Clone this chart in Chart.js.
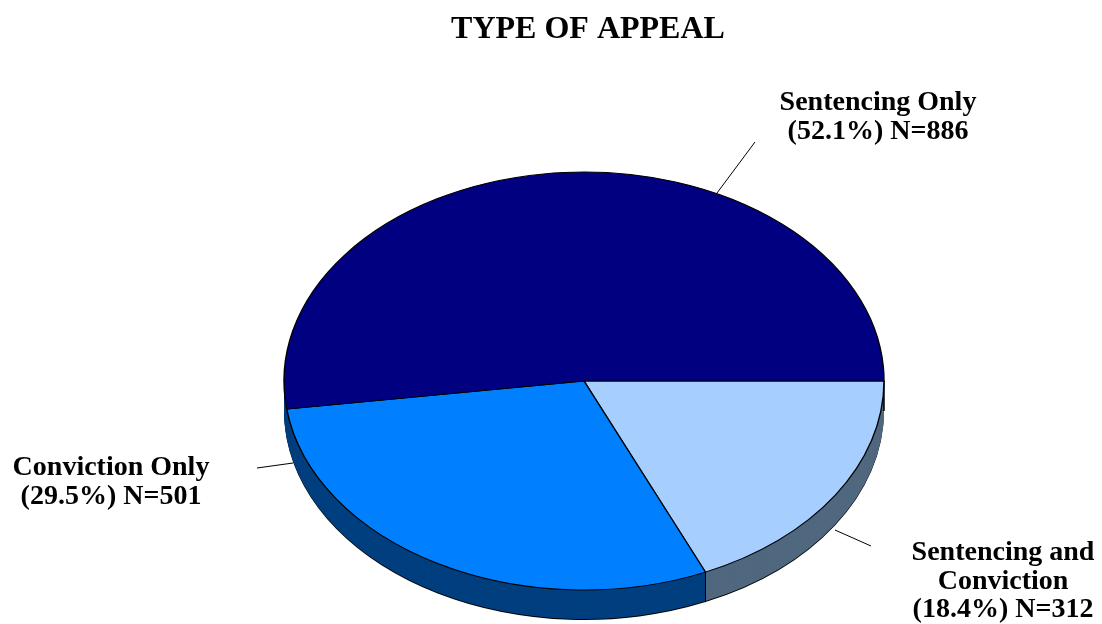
<!DOCTYPE html>
<html>
<head>
<meta charset="utf-8">
<script src="https://cdn.jsdelivr.net/npm/chart.js@4/dist/chart.umd.min.js"></script>
<style>
  html, body { margin: 0; padding: 0; background: #fff; }
  canvas { display: block; }
</style>
</head>
<body>
<canvas id="chart" width="1102" height="624"></canvas>
<script>
  // slices listed clockwise from 3 o'clock
  const categories = ['Sentencing and Conviction', 'Conviction Only', 'Sentencing Only'];
  const counts = [312, 501, 886];
  const percents = [18.4, 29.5, 52.1];
  const labelLines = [['Sentencing and', 'Conviction'], ['Conviction Only'], ['Sentencing Only']];

  const topColors = ['#A6CFFF', '#0080FF', '#000080'];
  const sideColors = ['#50687F', '#003F7F', '#003F7F'];

  // the flat pie gets squashed into this ellipse
  const pieX = 584, pieY = 381, pieRX = 300, pieRY = 209, depth = 30;

  // label centre (first line) and leader line
  const labelPos = [
    { x: 1003, y: 553, from: [871, 546], to: [835, 530] },
    { x: 111, y: 468, from: [257, 468], to: [293, 463] },
    { x: 878, y: 103, from: [755, 142], to: [717, 193] }
  ];
  const lineGap = 28.5;
  const serif = "'Liberation Serif', 'Times New Roman', serif";

  function withPieTransform(ctx, arc, dy, fn) {
    const k = arc.outerRadius;
    ctx.save();
    ctx.translate(pieX, pieY + dy);
    ctx.scale(pieRX / k, pieRY / k);
    ctx.translate(-arc.x, -arc.y);
    fn();
    ctx.restore();
  }

  function drawArc(ctx, arc, opts) {
    const saved = arc.options;
    arc.options = Object.assign({}, saved, opts);
    arc.draw(ctx);
    arc.options = saved;
  }

  const pie3d = {
    id: 'pie3d',
    beforeDatasetDraw() { return false; },
    afterDatasetsDraw(chart) {
      const ctx = chart.ctx;
      const arcs = chart.getDatasetMeta(0).data;

      // side wall, bottom layer black for the rim
      for (let d = depth; d >= 1; d--) {
        arcs.forEach((arc, i) => {
          withPieTransform(ctx, arc, d, () => drawArc(ctx, arc, {
            backgroundColor: d === depth ? '#000' : sideColors[i],
            borderWidth: 0
          }));
        });
      }

      // vertical edges on the front half
      const edges = [0];
      arcs.forEach(arc => edges.push(arc.startAngle));
      ctx.save();
      ctx.strokeStyle = '#000';
      ctx.lineWidth = 1;
      edges.forEach(a => {
        const s = Math.sin(a);
        if (s < -1e-6 || Math.cos(a) < -0.95) return;
        const x = pieX + pieRX * Math.cos(a);
        const y = pieY + pieRY * s;
        ctx.beginPath();
        ctx.moveTo(x, y);
        ctx.lineTo(x, y + depth);
        ctx.stroke();
      });
      ctx.restore();

      // top face
      arcs.forEach(arc => withPieTransform(ctx, arc, 0, () => arc.draw(ctx)));
    },
    afterDraw(chart) {
      const ctx = chart.ctx;
      ctx.save();
      ctx.strokeStyle = '#000';
      ctx.lineWidth = 1;
      ctx.fillStyle = '#000';
      ctx.font = 'bold 28px ' + serif;
      ctx.textAlign = 'center';
      ctx.textBaseline = 'middle';
      labelPos.forEach((p, i) => {
        ctx.beginPath();
        ctx.moveTo(p.from[0], p.from[1]);
        ctx.lineTo(p.to[0], p.to[1]);
        ctx.stroke();
        const lines = labelLines[i].concat('(' + percents[i].toFixed(1) + '%) N=' + counts[i]);
        lines.forEach((t, j) => ctx.fillText(t, p.x, p.y + j * lineGap));
      });
      ctx.restore();
    }
  };

  const ctx = document.getElementById('chart').getContext('2d');
  const chart = new Chart(ctx, {
    type: 'pie',
    data: {
      labels: categories,
      datasets: [{
        data: counts,
        backgroundColor: topColors,
        borderColor: '#000',
        borderWidth: 1.3
      }]
    },
    options: {
      responsive: false,
      animation: false,
      events: [],
      rotation: 90,
      layout: { padding: { left: 74 } },
      plugins: {
        legend: { display: false },
        tooltip: { enabled: false },
        title: {
          display: true,
          text: 'TYPE OF APPEAL',
          color: '#000',
          font: { family: serif, size: 32, weight: 'bold' },
          padding: { top: 11, bottom: 10 }
        }
      }
    },
    plugins: [pie3d]
  });
</script>
</body>
</html>
